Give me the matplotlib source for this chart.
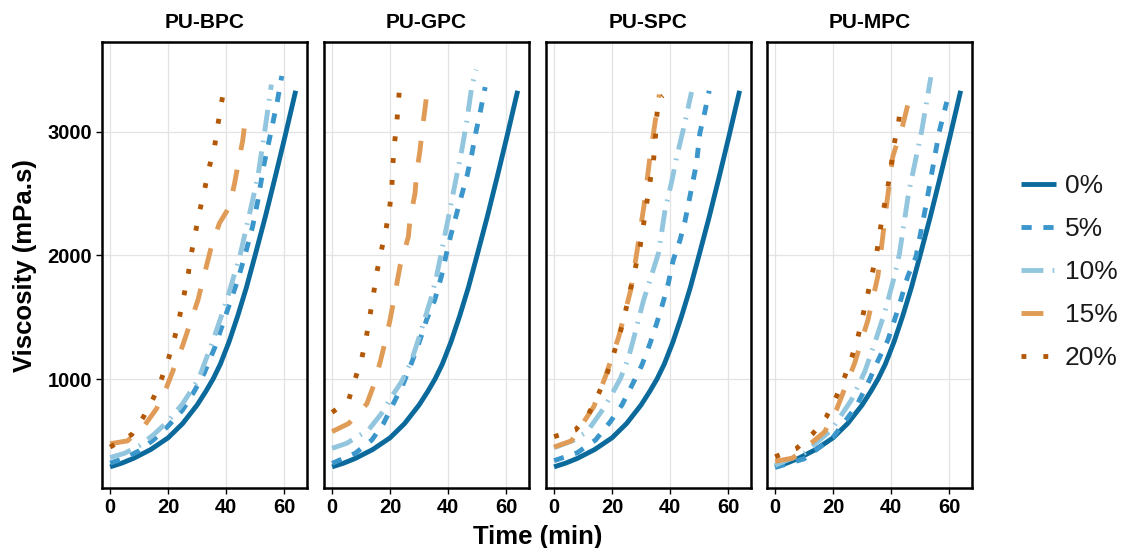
import matplotlib.pyplot as plt

plt.rcParams['font.family'] = ['Liberation Sans', 'DejaVu Sans']

paneller = ['PU-BPC', 'PU-GPC', 'PU-SPC', 'PU-MPC']
etiketler = ['0%', '5%', '10%', '15%', '20%']
renkler = ['#0B6A9B', '#3B96CC', '#92C5DE', '#E09C57', '#B35806']
cizgiler = ['-', (0, (2.1, 2.4)), (0, (4.5, 1.9, 0.35, 1.9)), (0, (4.5, 4.1)), (0, (1, 3.5))]

# 0% reference curve (same in every panel)
t_0 = [0, 4, 8, 14, 20, 25, 30, 33, 35.5, 38, 41, 44, 47, 50, 53.5, 57, 60.3, 64]
v_0 = [290, 320, 358, 430, 525, 640, 790, 900, 1000, 1120, 1300, 1510, 1740, 2000, 2310, 2640, 2960, 3330]

# PU-BPC
bpc_t5 = [0, 5, 10, 15, 20, 25, 29, 32.5, 36, 40.5, 44, 46.5, 49.1, 51, 53.1, 55.5, 57.7, 59.2]
bpc_v5 = [320, 360, 420, 510, 620, 750, 900, 1050, 1250, 1560, 1800, 2000, 2230, 2450, 2740, 3000, 3250, 3450]
bpc_t10 = [0, 5, 10, 15, 20, 25, 30.5, 35, 40, 44.8, 48.6, 50.9, 53.3, 55.6]
bpc_v10 = [365, 400, 460, 550, 660, 800, 1000, 1280, 1620, 2000, 2390, 2630, 3000, 3380]
bpc_t15 = [0, 6, 12, 16, 19.4, 25, 30.3, 34.9, 37.7, 41.1, 42.9, 44, 45.7, 46.5]
bpc_v15 = [477, 500, 630, 760, 930, 1270, 1640, 2070, 2260, 2390, 2580, 2720, 2925, 3075]
bpc_t20 = [0, 7.4, 11.4, 14.9, 17.7, 20.2, 22.3, 24, 25.5, 27, 28.1, 29.5, 30.9, 32.6, 34.1, 36, 37.1, 38.3, 39.7]
bpc_v20 = [450, 550, 690, 845, 1000, 1170, 1340, 1510, 1680, 1860, 2025, 2195, 2360, 2535, 2705, 2877, 3046, 3220, 3395]

# PU-GPC
gpc_t5 = [0, 8, 13.7, 17.7, 21.1, 24.6, 27.4, 30.3, 32.6, 35.4, 37.7, 39.3, 40.8, 44.6, 46.5, 48.2, 49.5, 51.1, 52.8]
gpc_v5 = [318, 400, 507, 640, 800, 965, 1130, 1315, 1480, 1640, 1830, 2000, 2150, 2480, 2640, 2820, 2985, 3160, 3360]
gpc_t10 = [0, 5, 12.6, 17, 20.6, 24, 27.4, 29.7, 32, 34.3, 36, 37.5, 40.7, 42.5, 44.8, 46.5, 48.2, 49.7]
gpc_v10 = [440, 480, 590, 720, 860, 980, 1150, 1315, 1490, 1665, 1830, 2000, 2375, 2590, 2860, 3090, 3370, 3500]
gpc_t15 = [0, 5.7, 12, 14.5, 16.6, 18.5, 20, 21.7, 23.4, 26.3, 26.9, 28.6, 29.1, 30.3, 31, 32, 33]
gpc_v15 = [575, 640, 800, 960, 1140, 1320, 1480, 1690, 1910, 2150, 2300, 2500, 2660, 2845, 3000, 3180, 3360]
gpc_t20 = [0, 5.7, 8, 10.3, 11.8, 13.1, 14.3, 15.4, 16.9, 18.5, 19.8, 20.6, 20.9, 21.5, 22.3, 22.9, 23.5]
gpc_v20 = [730, 830, 1005, 1175, 1340, 1520, 1690, 1860, 2030, 2200, 2375, 2550, 2720, 2900, 3070, 3250, 3420]

# PU-SPC
spc_t5 = [0, 8, 14.3, 19.4, 23.4, 26.9, 30.3, 33.1, 35.4, 37.5, 39.4, 41.1, 43.4, 45.1, 47.4, 49.1, 50.3, 52, 53.5]
spc_v5 = [340, 404, 507, 655, 790, 951, 1113, 1288, 1450, 1612, 1774, 1962, 2120, 2270, 2540, 2740, 2990, 3160, 3330]
spc_t10 = [0, 6.3, 11.4, 17.1, 20, 22.9, 25.5, 27.4, 30.9, 33.5, 36, 38.3, 40.6, 42.3, 44.6, 45.7, 47.4]
spc_v10 = [445, 500, 575, 763, 880, 1005, 1160, 1323, 1640, 1830, 2016, 2370, 2600, 2795, 3020, 3135, 3320]
spc_t15 = [0, 6, 11.4, 13.7, 17.7, 22.3, 26.3, 28.6, 31, 33.1, 35, 36.3]
spc_v15 = [450, 500, 695, 776, 1019, 1342, 1706, 2030, 2400, 2800, 3100, 3300]
spc_t20 = [0, 7.4, 12, 15.4, 18.3, 20.6, 22.9, 24.6, 26.3, 28, 29.7, 30.9, 32, 33.1, 34.3, 34.9, 35.4, 36, 37.5]
spc_v20 = [534, 588, 722, 884, 1046, 1208, 1383, 1544, 1720, 1895, 2073, 2257, 2427, 2596, 2766, 2935, 3119, 3260, 3290]

# PU-MPC
mpc_t5 = [0, 10, 20, 28, 32, 35.5, 38.9, 42.3, 45.7, 48.6, 52, 56.6, 59.2]
mpc_v5 = [285, 355, 530, 780, 965, 1150, 1315, 1558, 1827, 1990, 2400, 3000, 3240]
mpc_t10 = [0, 10, 19.4, 26.3, 30.9, 34.3, 37.7, 41.1, 42.9, 46, 50.5, 53.7]
mpc_v10 = [304, 400, 588, 830, 1059, 1288, 1531, 1827, 2016, 2500, 3000, 3440]
mpc_t15 = [0, 6, 13.7, 17.1, 21.1, 22.9, 27.4, 32, 35.4, 36, 38.5, 40.6, 44, 45.9]
mpc_v15 = [335, 360, 507, 574, 749, 857, 1127, 1477, 1827, 1935, 2420, 2800, 3050, 3230]
mpc_t20 = [0, 7.4, 13.1, 17.7, 21.1, 24, 26.5, 28.6, 30.3, 32, 33.5, 35.1, 36.2, 37.4, 38.9, 40, 41.1, 42.6, 43.4]
mpc_v20 = [372, 439, 561, 695, 857, 1019, 1181, 1342, 1518, 1693, 1854, 2030, 2200, 2370, 2555, 2725, 2905, 3075, 3245]

veriler = [
    [(t_0, v_0), (bpc_t5, bpc_v5), (bpc_t10, bpc_v10), (bpc_t15, bpc_v15), (bpc_t20, bpc_v20)],
    [(t_0, v_0), (gpc_t5, gpc_v5), (gpc_t10, gpc_v10), (gpc_t15, gpc_v15), (gpc_t20, gpc_v20)],
    [(t_0, v_0), (spc_t5, spc_v5), (spc_t10, spc_v10), (spc_t15, spc_v15), (spc_t20, spc_v20)],
    [(t_0, v_0), (mpc_t5, mpc_v5), (mpc_t10, mpc_v10), (mpc_t15, mpc_v15), (mpc_t20, mpc_v20)],
]

fig = plt.figure(figsize=(11.25, 5.48), dpi=100)
soller = [0.0907, 0.288, 0.4853, 0.6818]

for i, ad in enumerate(paneller):
    ax = fig.add_axes([soller[i], 0.1095, 0.1822, 0.814])
    for j in range(5):
        t, v = veriler[i][j]
        ax.plot(t, v, color=renkler[j], linestyle=cizgiler[j], linewidth=3.5,
                dash_capstyle='butt', solid_capstyle='butt', label=etiketler[j])
    ax.set_xlim(-2.8, 67.9)
    ax.set_ylim(119, 3725)
    ax.set_xticks([0, 20, 40, 60])
    ax.set_yticks([1000, 2000, 3000])
    ax.grid(True, color='#E3E3E3', linewidth=0.9)
    ax.set_axisbelow(True)
    for s in ax.spines.values():
        s.set_linewidth(1.8)
        s.set_color('black')
    ax.tick_params(length=4, width=1, color='black', labelsize=14.5, pad=3)
    for lab in ax.get_xticklabels() + ax.get_yticklabels():
        lab.set_fontweight('bold')
    if i > 0:
        ax.set_yticklabels([])
        ax.tick_params(axis='y', length=0)
    ax.set_title(ad, fontsize=15, fontweight='bold', pad=10)
    if i == 0:
        tutacaklar, isimler = ax.get_legend_handles_labels()

fig.text(0.478, 0.02, 'Time (min)', ha='center', va='center', fontsize=18.5, fontweight='bold')
fig.text(0.022, 0.516, 'Viscosity (mPa.s)', ha='center', va='center', rotation=90, fontsize=18.5, fontweight='bold')

leg = fig.legend(tutacaklar, isimler, loc='center left', bbox_to_anchor=(0.886, 0.504), frameon=False,
                 fontsize=19, handlelength=1.35, handletextpad=0.32, labelspacing=0.72)
for txt in leg.get_texts():
    txt.set_color('#1a1a1a')

plt.savefig('out.png', dpi=100)
